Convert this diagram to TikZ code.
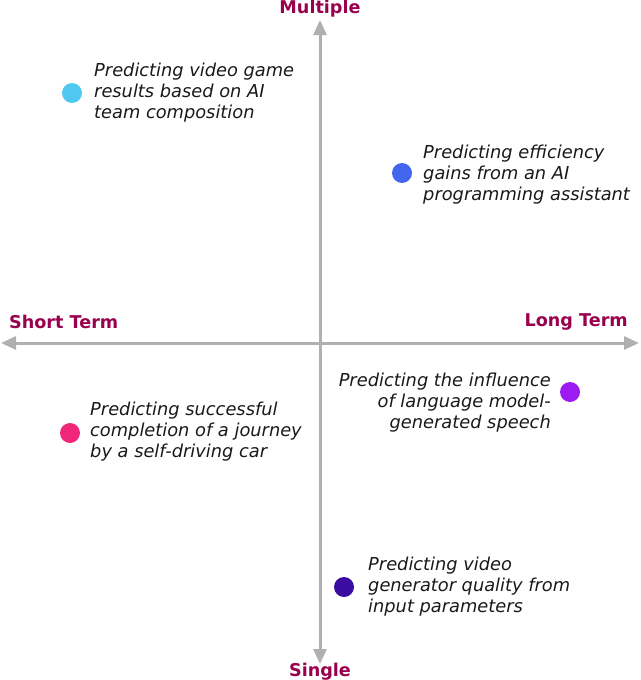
\documentclass[tikz,border=0pt]{standalone}
\usepackage{fontspec}
\setmainfont{DejaVu Sans}
\usetikzlibrary{arrows.meta}
\definecolor{axisgray}{HTML}{B0B0B0}
\definecolor{lbl}{HTML}{99004D}
\definecolor{cA}{HTML}{4FC8F0}
\definecolor{cB}{HTML}{4466EE}
\definecolor{cC}{HTML}{9B1BF0}
\definecolor{cD}{HTML}{F0267A}
\definecolor{cE}{HTML}{3A0DA0}
\tikzset{
  axis/.style={draw=axisgray, line width=3pt, -{Triangle[length=15pt,width=13pt]}},
  axlabel/.style={text=lbl, font=\bfseries\fontsize{17.6}{20}\selectfont, inner sep=0pt},
  dot/.style={circle, minimum size=20pt, inner sep=0pt, fill=#1},
  desc/.style={font=\itshape\fontsize{17.8}{21}\selectfont, inner sep=0pt, text=black!90},
}
\begin{document}
\begin{tikzpicture}[x=1pt,y=-1pt]
\useasboundingbox (0,0) rectangle (640,680);
\coordinate (o) at (320,343);
\coordinate (top) at (320,20);
\coordinate (bot) at (320,664);
\coordinate (lft) at (1,343);
\coordinate (rgt) at (639,343);
\draw[axis] (o) -- (top);
\draw[axis] (o) -- (bot);
\draw[axis] (o) -- (lft);
\draw[axis] (o) -- (rgt);
\node[axlabel] (mul) at (320,8.5) {Multiple};
\node[axlabel] (sgl) at (320,672) {Single};
\node[axlabel, anchor=west] (st) at (9,322) {Short Term};
\node[axlabel, anchor=east] (lt) at (628,322) {Long Term};

\node[dot=cA] (d1) at (72,93) {};
\node[desc, anchor=west, align=left] (t1) at (94,92.5) {Predicting video game\\results based on AI\\team composition};
\node[dot=cB] (d2) at (402,173) {};
\node[desc, anchor=west, align=left] (t2) at (423,174.5) {Predicting efficiency\\gains from an AI\\programming assistant};
\node[dot=cC] (d3) at (570,392) {};
\node[desc, anchor=east, align=right] (t3) at (551,402.5) {Predicting the influence\\of language model-\\generated speech};
\node[dot=cD] (d4) at (70,433) {};
\node[desc, anchor=west, align=left] (t4) at (90,431.5) {Predicting successful\\completion of a journey\\by a self-driving car};
\node[dot=cE] (d5) at (344,587) {};
\node[desc, anchor=west, align=left] (t5) at (368,586.5) {Predicting video\\generator quality from\\input parameters};
\end{tikzpicture}
\end{document}
